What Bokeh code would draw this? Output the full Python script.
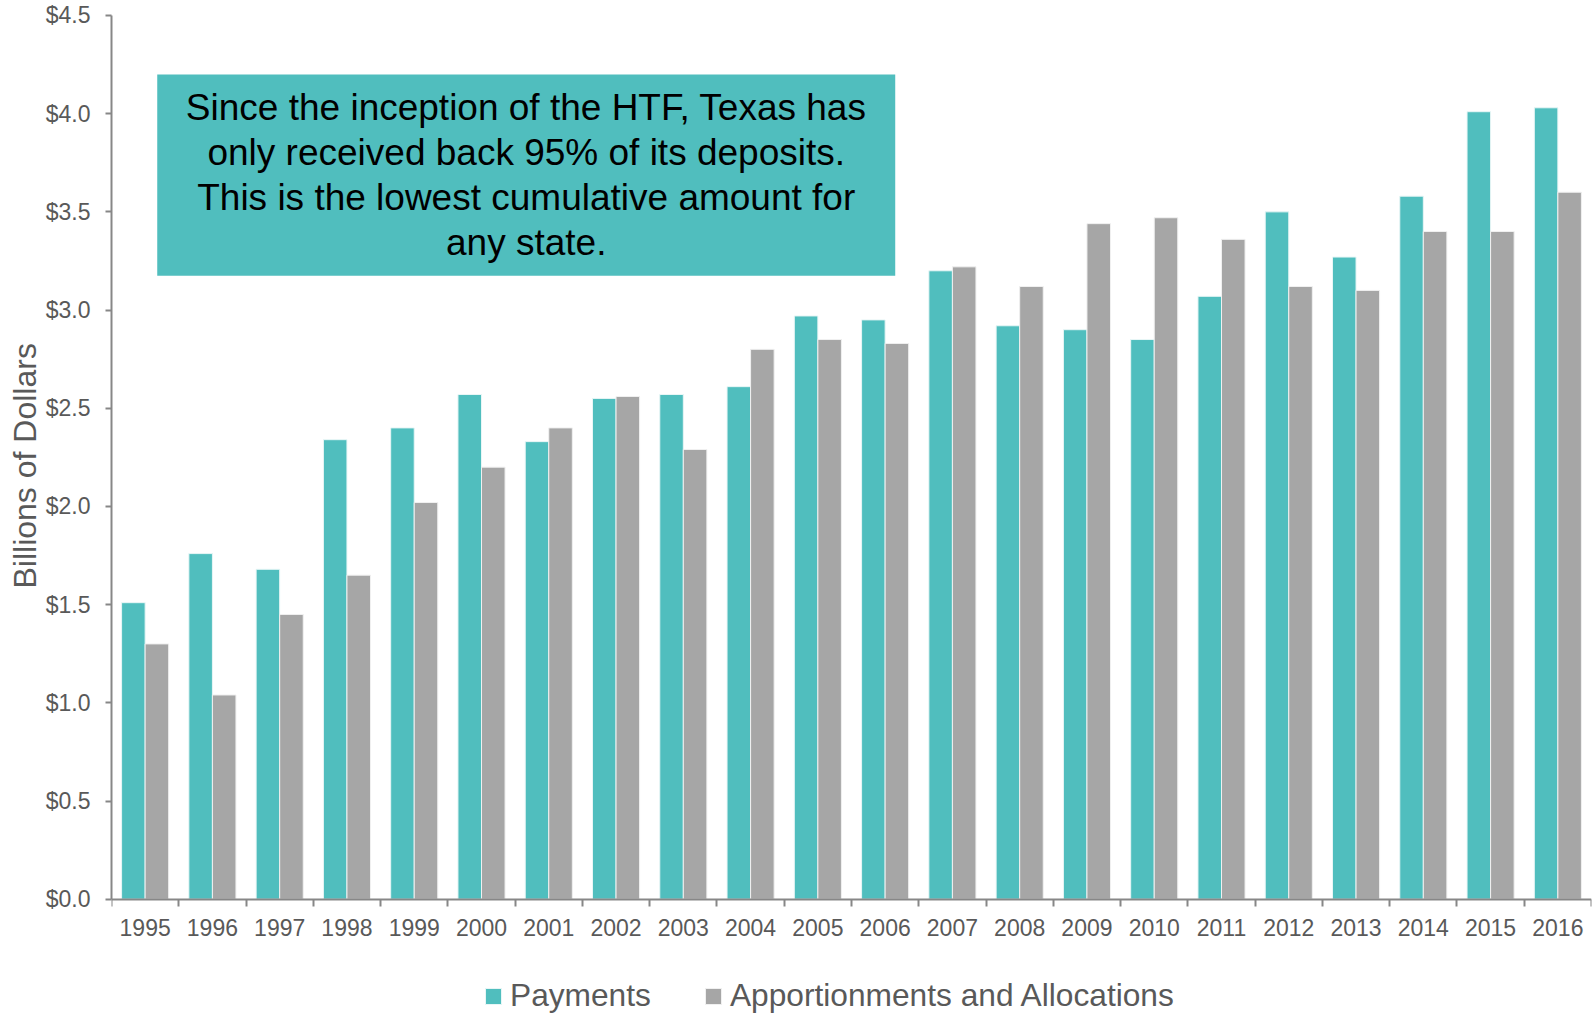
from bokeh.plotting import figure
from bokeh.models import (ColumnDataSource, Range1d, FixedTicker, NumeralTickFormatter, Legend,
                          LegendItem, BoxAnnotation, Label, LinearAxis, Title)
from bokeh.transform import dodge
from bokeh.embed import file_html
from bokeh.resources import INLINE

years = ["1995", "1996", "1997", "1998", "1999", "2000", "2001", "2002", "2003", "2004", "2005",
         "2006", "2007", "2008", "2009", "2010", "2011", "2012", "2013", "2014", "2015", "2016"]
payments = [1.51, 1.76, 1.68, 2.34, 2.40, 2.57, 2.33, 2.55, 2.57, 2.61, 2.97,
            2.95, 3.20, 2.92, 2.90, 2.85, 3.07, 3.50, 3.27, 3.58, 4.01, 4.03]
apportionments = [1.30, 1.04, 1.45, 1.65, 2.02, 2.20, 2.40, 2.56, 2.29, 2.80, 2.85,
                  2.83, 3.22, 3.12, 3.44, 3.47, 3.36, 3.12, 3.10, 3.40, 3.40, 3.60]
y_ticks = [0.0, 0.5, 1.0, 1.5, 2.0, 2.5, 3.0, 3.5, 4.0, 4.5]
series_names = ["Payments", "Apportionments and Allocations"]
note_text = ("Since the inception of the HTF, Texas has\n"
             "only received back 95% of its deposits.\n"
             "This is the lowest cumulative amount for\n"
             "any state.")
y_title = "Billions of Dollars"

TEAL = "#50BEBE"
GRAY = "#A6A6A6"
TXT = "#595959"
LINE = "#878787"
FONT = "Liberation Sans"

idx = list(range(len(years)))
src = ColumnDataSource(dict(x=idx, year=years, pay=payments, app=apportionments))

p = figure(width=1594, height=1017, output_backend="svg", toolbar_location=None,
           x_range=Range1d(-0.5, len(years) - 0.5), y_range=Range1d(-0.6023, 4.505),
           x_axis_type=None, y_axis_type=None,
           min_border_left=111, min_border_right=3, min_border_top=14, min_border_bottom=0)
p.outline_line_color = None
p.background_fill_color = "white"
p.border_fill_color = "white"

# y axis
yax = LinearAxis(ticker=FixedTicker(ticks=y_ticks), formatter=NumeralTickFormatter(format="$0.0"),
                 bounds=(y_ticks[0], y_ticks[-1]))
yax.major_label_text_font = FONT
yax.major_label_text_font_size = "23px"
yax.major_label_text_color = TXT
yax.major_label_standoff = 15
yax.axis_line_color = LINE
yax.axis_line_width = 2
yax.major_tick_line_color = LINE
yax.major_tick_line_width = 2
yax.major_tick_out = 6
yax.major_tick_in = 0
yax.minor_tick_line_color = None
p.add_layout(yax, "left")

ytitle = Title(text=y_title, align="left", offset=429, standoff=0,
               text_font=FONT, text_font_size="32px", text_font_style="normal", text_color=TXT)
p.add_layout(ytitle, "left")

# x axis at y = 0: labels at centres, ticks at boundaries
xax = LinearAxis(ticker=FixedTicker(ticks=idx, minor_ticks=[i - 0.5 for i in range(len(years) + 1)]),
                 fixed_location=0)
xax.major_label_overrides = {i: y for i, y in zip(idx, years)}
xax.major_label_text_font = FONT
xax.major_label_text_font_size = "23px"
xax.major_label_text_color = TXT
xax.major_label_standoff = 13
xax.axis_line_color = LINE
xax.axis_line_width = 2
xax.major_tick_line_color = None
xax.major_tick_out = 0
xax.major_tick_in = 0
xax.minor_tick_line_color = LINE
xax.minor_tick_line_width = 2
xax.minor_tick_out = 7
xax.minor_tick_in = 0
p.add_layout(xax, "below")

p.xgrid.visible = False
p.ygrid.ticker = FixedTicker(ticks=y_ticks)
p.ygrid.grid_line_color = LINE
p.ygrid.grid_line_width = 1.75

r1 = p.vbar(x=dodge("x", -0.175, range=p.x_range), top="pay", width=0.35, source=src,
            fill_color=TEAL, line_color="#E8F6F6", line_width=1)
r2 = p.vbar(x=dodge("x", 0.175, range=p.x_range), top="app", width=0.35, source=src,
            fill_color=GRAY, line_color="#F0F0F0", line_width=1)

legend = Legend(items=[LegendItem(label=series_names[0], renderers=[r1]),
                       LegendItem(label=series_names[1], renderers=[r2])],
                orientation="horizontal", location=(372, 3),
                glyph_width=20, glyph_height=20, label_standoff=7, spacing=52,
                padding=0, margin=0, border_line_color=None, background_fill_alpha=0,
                label_text_font=FONT, label_text_font_size="31.7px", label_text_color=TXT)
p.add_layout(legend, "center")

box = BoxAnnotation(left=0.18, right=11.15, bottom=3.175, top=4.2,
                    fill_color=TEAL, fill_alpha=1.0, line_color=None, level="overlay")
p.add_layout(box)
note = Label(x=5.665, y=3.687, text=note_text, text_align="center", text_baseline="middle",
             text_font=FONT, text_font_size="37px", text_color="black", text_line_height=1.1,
             level="overlay")
p.add_layout(note)

open("out.html", "w").write(file_html(p, INLINE))
